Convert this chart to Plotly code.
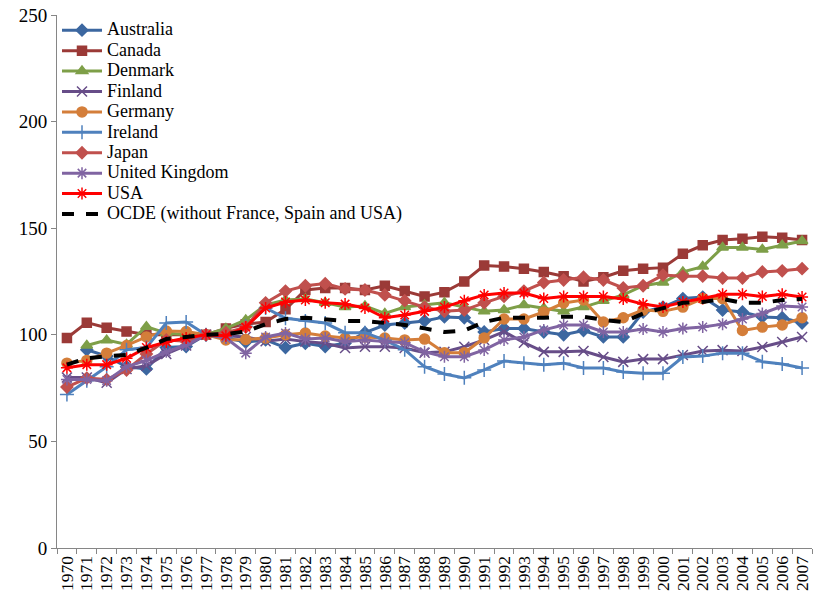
import plotly.graph_objects as go

years = [str(y) for y in range(1970, 2008)]

australia = [None, 93, 90, 85, 84, 94, 94.5, 100, 98.5, 96.6, 97.6, 94, 96, 94.5, 96, 101, 104.6, 105.5, 106.5, 108.4,
             108, 101.3, 103, 103, 101.3, 100, 102, 99, 99, 110.7, 113, 117, 117.7, 111.6, 110.7, 108.4, 108, 105.5]
canada = [98.5, 105.7, 103.3, 101.5, 100, 100, 100, 100, 103, 105, 106, 112, 121, 122, 122, 121, 123, 120.5, 118, 120,
          125, 132.5, 132, 131, 129.5, 127.5, 125, 127, 130, 131, 131.5, 138, 142, 144.5, 145, 146, 145.5, 144.5]
denmark = [None, 95, 97.5, 95.5, 103.8, 100.8, 100, 100, 103, 107, 114, 116.3, 116.8, 115, 113, 113.5, 110, 113, 114, 115,
           113, 111, 111.6, 114, 112.5, 111, 113, 116, 118.7, 123, 124.5, 129.5, 132, 141, 141, 140, 142, 144]
finland = [80, 80, 77.5, 84, 85.5, 91, 95, 100, 99.5, 99, 97, 98, 96.8, 96, 93.8, 94.4, 94.4, 93.8, 91.6, 92,
           94.4, 97.6, 101.5, 96.3, 92, 92, 92.4, 89.6, 87.3, 88.6, 88.6, 90.5, 92.4, 92.8, 92.4, 94.3, 96.6, 99]
germany = [86.7, 88, 91.4, 95, 99, 101.8, 101.5, 100, 97.6, 97.8, 98.5, 100, 100.8, 99.4, 98.5, 99, 98.5, 97.6, 98, 91.6,
           91.6, 98.5, 107.4, 107.4, 110.7, 114.9, 116.3, 106, 108, 111.6, 111, 113, 117, 117, 102, 103.6, 104.6, 108]
ireland = [72, 78.5, 85, 93, 94, 105.5, 106, 100, 99, 104, 112.6, 107.8, 106.5, 105.5, 101, 101, 97.5, 93, 85, 81.6,
           79.8, 83.5, 87.7, 86.7, 86, 86.7, 84.4, 84.4, 82.6, 82, 82, 89.6, 90, 91.4, 91.4, 87.4, 86.3, 84.4]
japan = [75.5, 79.7, 79, 83.5, 91, 97.6, 97, 100, 101, 103.6, 115, 120.5, 123, 124, 121.5, 121, 118.7, 116, 113, 111,
         111.6, 115, 118, 120.5, 124.5, 125.7, 127, 125.7, 122, 123, 128, 127.5, 127.5, 126.6, 126.6, 129.5, 130, 131]
uk = [79, 79, 78.5, 85, 88, 92, 95.2, 100, 98.5, 91.4, 99, 100.8, 98, 98.5, 96.8, 97.6, 96.8, 96.3, 92, 89.7,
      89.7, 92.9, 97.6, 99, 102.3, 104.6, 104.6, 101.3, 101.3, 102.7, 101.3, 103, 103.7, 105, 107.4, 110, 113.5, 113]
usa = [84.5, 86, 86, 89, 94, 96.6, 98.5, 100, 99.5, 103.6, 112.6, 115.4, 116.3, 115, 114.4, 112.6, 108, 109.3, 111, 113,
       116, 118.7, 119.6, 119.6, 117, 118, 118, 118, 116.8, 114.4, 113, 115.4, 117, 119, 119, 118, 119, 117.7]
ocde = [86, 89, 90, 90.5, 94, 98, 99, 100, 100.4, 101.5, 105, 107.4, 108, 107.4, 106.5, 106.5, 105.5, 104.6, 103, 101.3,
        102, 106, 108, 108, 108, 108.5, 108.5, 107, 106, 110, 112.6, 115, 115.4, 116.8, 115, 115, 116.3, 116.8]

y_ticks = [0, 50, 100, 150, 200, 250]

series = [
    ("Australia", australia, "#3C67A0", "diamond", 9),
    ("Canada", canada, "#9B3A37", "square", 9),
    ("Denmark", denmark, "#7E9F48", "triangle-up", 10),
    ("Finland", finland, "#674D88", "x-thin-open", 10),
    ("Germany", germany, "#D47E3A", "circle", 10),
    ("Ireland", ireland, "#4F81BD", "cross-thin-open", 10),
    ("Japan", japan, "#C0504D", "diamond", 9),
    ("United Kingdom", uk, "#8064A2", "asterisk-open", 10),
    ("USA", usa, "#FF0000", "asterisk-open", 10),
]

LEG = "<span style='font-size:18px'>{}</span>"

fig = go.Figure()
for name, vals, col, sym, sz in series:
    fig.add_trace(go.Scatter(
        x=years, y=vals, name=LEG.format(name), mode="lines+markers",
        line=dict(color=col, width=3),
        marker=dict(symbol=sym, size=sz, color=col, line=dict(color=col, width=1.5)),
    ))
fig.add_trace(go.Scatter(
    x=years, y=ocde, name=LEG.format("OCDE (without France, Spain and USA)"), mode="lines",
    line=dict(color="black", width=4, dash="dash"),
))

fig.update_layout(
    width=815, height=597,
    margin=dict(l=57, r=3, t=15, b=49, autoexpand=False),
    paper_bgcolor="white", plot_bgcolor="white",
    font=dict(family="Liberation Serif", color="black"),
    showlegend=True,
    legend=dict(x=0.0, y=1.0, xanchor="left", yanchor="top",
                bgcolor="rgba(0,0,0,0)", font=dict(size=13.4, family="Liberation Serif"),
                itemwidth=40, tracegroupgap=0),
    xaxis=dict(type="category", tickangle=-90, tickfont=dict(size=17.5), range=[-0.5, 37.5],
               tickmode="linear", tick0=0, dtick=1,
               showline=True, linecolor="#868686", linewidth=1, automargin=False,
               ticks="outside", tickson="boundaries", ticklen=5, tickcolor="#868686",
               showgrid=False, zeroline=False),
    yaxis=dict(range=[0, 250], tickmode="array", tickvals=y_ticks, tickfont=dict(size=19), automargin=False,
               ticklabeloverflow="allow",
               showline=True, linecolor="#868686", linewidth=1,
               ticks="outside", ticklen=5, tickcolor="#868686",
               showgrid=False, zeroline=False),
)

# remove the browser's default 8px body margin so the figure sits at the page origin
fig.write_html("out.html", config={"displayModeBar": False},
               post_script="document.body.style.margin='0';")
